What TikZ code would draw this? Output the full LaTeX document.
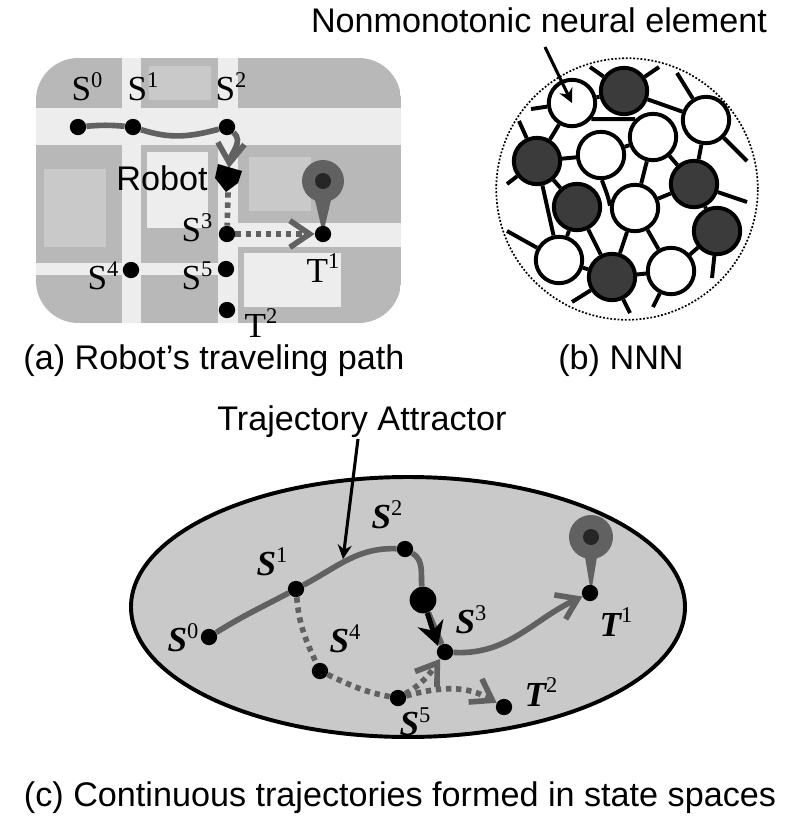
\documentclass[tikz,border=0pt]{standalone}
\usepackage{fontspec}
\setmainfont{Liberation Sans}
\newfontfamily\statefont{Liberation Serif}
\usetikzlibrary{arrows.meta}

\definecolor{blockgray}{gray}{0.72}
\definecolor{roadgray}{gray}{0.93}
\definecolor{yardgray}{gray}{0.79}
\definecolor{pathgray}{gray}{0.38}
\definecolor{darkcell}{gray}{0.23}
\definecolor{spacegray}{gray}{0.79}

\newcommand{\mapstate}[2]{{\statefont\fontsize{25}{25}\selectfont #1\raisebox{0.38em}{\fontsize{16}{16}\selectfont #2}}}
\newcommand{\spacestate}[2]{{\statefont\fontsize{25}{25}\selectfont\bfseries\itshape #1\raisebox{0.38em}{\fontsize{16}{16}\selectfont\mdseries\upshape #2}}}

\tikzset{
    caption/.style={font=\fontsize{24.3}{28}\selectfont, inner sep=0pt},
    dot/.style={shape=circle, fill=black, inner sep=0pt, minimum size=11.6pt},
    whitecell/.style={shape=circle, draw=black, fill=white, line width=2.8pt, inner sep=0pt, minimum size=33pt},
    darkcell/.style={whitecell, fill=darkcell},
    traj/.style={draw=pathgray, line width=4pt},
    trajdash/.style={traj, dash pattern=on 3.8pt off 3.4pt},
    barb/.style={-{Straight Barb[length=14pt,width=19pt,line width=4pt]}},
    pointer/.style={-{Stealth[length=10pt,width=10pt]}, line width=2.2pt},
}

\begin{document}
\begin{tikzpicture}[x=0.025cm,y=-0.025cm]
        \useasboundingbox (0,0) rectangle (800,824);

        \begin{scope}
        \clip[rounded corners=30pt] (36,58) rectangle (401,323);
        \fill[blockgray] (36,58) rectangle (401,323);
        \fill[roadgray] (36,108) rectangle (401,145);
        \fill[roadgray] (122,58) rectangle (141,323);
        \fill[roadgray] (218,58) rectangle (238,323);
        \fill[roadgray] (218,223) rectangle (401,247);
        \fill[roadgray] (36,263) rectangle (238,275);
        \fill[yardgray] (149,66) rectangle (211,100);
        \fill[yardgray] (44,169) rectangle (106,247);
        \fill[roadgray] (147,152) rectangle (208,228);
        \fill[yardgray] (249,157) rectangle (311,211);
        \fill[roadgray] (244,253) rectangle (341,307);
        \end{scope}

        \fill[pathgray] (315,200) -- (331,200) -- (323,234) -- cycle;
        \fill[pathgray] (323,181) circle (21);
        \fill[black!85] (323,181) circle (8);

        \node[dot] (a-S0) at (78,127) {};
        \node[dot] (a-S1) at (133,127) {};
        \node[dot] (a-S2) at (227,127) {};
        \node[dot] (a-S3) at (227,234) {};
        \node[dot] (a-S4) at (131,270) {};
        \node[dot] (a-S5) at (226,269) {};
        \node[dot] (a-T1) at (323,234) {};
        \node[dot] (a-T2) at (227,310) {};
        \node[shape=circle, inner sep=0pt, minimum size=20pt] (robot) at (228,178) {};
        \coordinate (robot-top) at (229,168);

        \node (a-S0-label) at (87,87) {\mapstate{S}{0}};
        \node (a-S1-label) at (143,87) {\mapstate{S}{1}};
        \node (a-S2-label) at (231,87) {\mapstate{S}{2}};
        \node (a-S3-label) at (197,228) {\mapstate{S}{3}};
        \node (a-S4-label) at (103,276) {\mapstate{S}{4}};
        \node (a-S5-label) at (197,276) {\mapstate{S}{5}};
        \node (a-T1-label) at (323,268) {\mapstate{T}{1}};
        \node (a-T2-label) at (261,323) {\mapstate{T}{2}};
        \node[caption] (robot-label) at (162,178) {Robot};
        \node[caption] (a-caption) at (214,361) {(a) Robot’s traveling path};

        \path[traj]
        (a-S0) edge[out=5, in=175] (a-S1)
        (a-S1) edge[out=-18, in=195] (a-S2)
        ;
        \path[traj, barb]
        (a-S2) edge[out=-40, in=85] (robot-top)
        ;
        \path[trajdash]
        (robot.south) edge (a-S3)
        ;
        \path[trajdash, barb]
        (a-S3) edge (a-T1)
        ;
        \fill[black] (218,164) -- (242,171) -- (238,183) -- (226,192) -- (215,178) -- cycle;

        \node[circle, draw=black, line width=1.2pt, dash pattern=on 1.3pt off 1.3pt, inner sep=0pt, minimum size=186pt] (nnn) at (627,189) {};

        \node[whitecell] (w1) at (572,103) {};
        \node[whitecell] (w2) at (706,120) {};
        \node[whitecell] (w3) at (653,137) {};
        \node[whitecell] (w4) at (601,155) {};
        \node[whitecell] (w5) at (635,208) {};
        \node[whitecell] (w6) at (559,260) {};
        \node[whitecell] (w7) at (671,271) {};
        \node[darkcell] (d1) at (624,91) {};
        \node[darkcell] (d2) at (537,161) {};
        \node[darkcell] (d3) at (694,184) {};
        \node[darkcell] (d4) at (577,207) {};
        \node[darkcell] (d5) at (717,231) {};
        \node[darkcell] (d6) at (612,277) {};

        \coordinate (e1) at (590,67);
        \coordinate (e2) at (659,67);
        \coordinate (e3) at (531,109);
        \coordinate (e4) at (519,121);
        \coordinate (e5) at (507,184);
        \coordinate (e6) at (677,73);
        \coordinate (e7) at (747,161);
        \coordinate (e8) at (747,202);
        \coordinate (e9) at (712,278);
        \coordinate (e10) at (507,231);
        \coordinate (e11) at (572,302);
        \coordinate (e12) at (630,313);
        \coordinate (e13) at (653,307);

        \path[-, line width=2.8pt]
        (w1) edge (d1)
        (d1) edge (w2)
        (w1.-40) edge (w3.135)
        (w1) edge (d2)
        (d2) edge (w4)
        (w4) edge (w3)
        (w3) edge (w5)
        (w3) edge (d3)
        (w2) edge (d3)
        (d3) edge (w5)
        (d3) edge (d5)
        (d2) edge (d4)
        (d2) edge (w6)
        (d4) edge (w6)
        (d4) edge (d6)
        (w4.-88) edge[out=-70, in=100] (w5.175)
        (w5) edge (d6)
        (w5) edge (w7)
        (d5) edge (w7)
        (d6) edge (w7)
        (w6) edge (d6)
        (d1) edge (e1)
        (d1) edge (e2)
        (w1) edge (e3)
        (d2) edge (e4)
        (d2) edge (e5)
        (w2) edge (e6)
        (w2) edge (e7)
        (d3) edge (e8)
        (d5) edge (e9)
        (w6) edge (e10)
        (d6) edge (e11)
        (d6) edge (e12)
        (w7) edge (e13)
        ;

        \node[caption] (nnn-label) at (539,20) {Nonmonotonic neural element};
        \node[caption] (b-caption) at (621,361) {(b) NNN};
        \coordinate (nnn-start) at (545,47);
        \path[pointer]
        (nnn-start) edge (w1.center);

        \coordinate (space-center) at (408,607);
        \draw[fill=spacegray, line width=2.8pt] (space-center) ellipse [x radius=277, y radius=130];

        \fill[pathgray] (585,557) -- (597,557) -- (591,593) -- cycle;
        \fill[pathgray] (591,537) circle (22);
        \fill[black!85] (591,537) circle (8);

        \node[dot] (c-S0) at (209,637) {};
        \node[dot] (c-S1) at (296,589) {};
        \node[dot] (c-S2) at (405,549) {};
        \node[dot] (c-S3) at (445,652) {};
        \node[dot] (c-S4) at (320,671) {};
        \node[dot] (c-S5) at (398,698) {};
        \node[dot] (c-T1) at (590,593) {};
        \node[dot] (c-T2) at (504,707) {};
        \node[shape=circle, fill=black, inner sep=0pt, minimum size=19pt] (c-robot) at (423,600) {};
        \coordinate (c-robot-tip) at (438,646);

        \node (c-S0-label) at (183,638) {\spacestate{S}{0}};
        \node (c-S1-label) at (272,562) {\spacestate{S}{1}};
        \node (c-S2-label) at (387,515) {\spacestate{S}{2}};
        \node (c-S3-label) at (471,620) {\spacestate{S}{3}};
        \node (c-S4-label) at (345,639) {\spacestate{S}{4}};
        \node (c-S5-label) at (415,722) {\spacestate{S}{5}};
        \node (c-T1-label) at (616,622) {\spacestate{T}{1}};
        \node (c-T2-label) at (541,692) {\spacestate{T}{2}};

        \node[caption] (attractor-label) at (362,422) {Trajectory Attractor};
        \node[caption] (c-caption) at (400,798) {(c) Continuous trajectories formed in state spaces};

        \path[traj]
        (c-S0) edge[out=32, in=208] (c-S1)
        (c-S1) edge[out=28, in=178] (c-S2)
        (c-S2) edge[out=-30, in=95] (c-robot)
        (c-robot) edge (c-S3)
        ;
        \path[-{Stealth[length=17pt,width=19pt]}, line width=3.6pt]
        (c-robot) edge (c-robot-tip);
        \path[traj, barb]
        (c-S3) edge[out=-3, in=205] (c-T1)
        ;
        \path[trajdash]
        (c-S1) edge[out=-85, in=115] (c-S4)
        (c-S4) edge[out=-25, in=170] (c-S5)
        ;
        \path[trajdash, barb]
        (c-S5) edge[out=30, in=235] (c-S3)
        (c-S5) edge[out=15, in=150] (c-T2)
        ;
        \coordinate (attractor-start) at (358,439);
        \coordinate (attractor-tip) at (343,559);
        \path[pointer]
        (attractor-start) edge (attractor-tip);
\end{tikzpicture}
\end{document}
